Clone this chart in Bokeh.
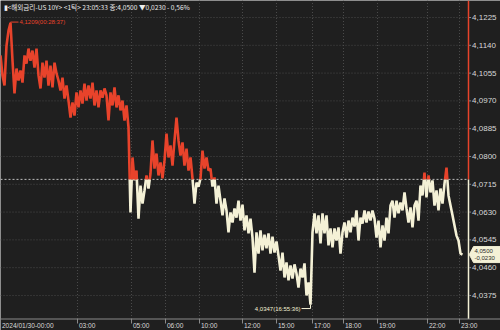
from bokeh.plotting import figure
from bokeh.models import Range1d
from bokeh.embed import file_html
from bokeh.resources import INLINE
from bokeh.core.properties import value

# ---------------- data ----------------
prices = [
    4.1109, 4.1048, 4.1017, 4.1139, 4.1185, 4.1209, 4.1093, 4.0993, 4.1069, 4.1032,
    4.1063, 4.1026, 4.1109, 4.1084, 4.1130, 4.1093, 4.1124, 4.1072, 4.1130, 4.1048,
    4.1008, 4.1087, 4.1041, 4.1093, 4.1017, 4.1078, 4.1011, 4.1087, 4.1054, 4.1032,
    4.1002, 4.1041, 4.0977, 4.1017, 4.0971, 4.0919, 4.0965, 4.0925, 4.0996, 4.0950,
    4.1002, 4.0962, 4.1023, 4.0971, 4.1017, 4.0977, 4.1026, 4.0956, 4.1002, 4.0950,
    4.1002, 4.0980, 4.1008, 4.0987, 4.0910, 4.0996, 4.0956, 4.1011, 4.0950, 4.0987,
    4.0941, 4.0971, 4.0910, 4.0956, 4.0889, 4.0629, 4.0797, 4.0727, 4.0757, 4.0610,
    4.0711, 4.0656, 4.0696, 4.0742, 4.0702, 4.0748, 4.0849, 4.0763, 4.0809, 4.0742,
    4.0782, 4.0733, 4.0788, 4.0870, 4.0797, 4.0834, 4.0772, 4.0849, 4.0919, 4.0849,
    4.0803, 4.0843, 4.0772, 4.0824, 4.0757, 4.0797, 4.0733, 4.0656, 4.0720, 4.0708,
    4.0733, 4.0818, 4.0763, 4.0797, 4.0757, 4.0763, 4.0708, 4.0736, 4.0656, 4.0711,
    4.0665, 4.0620, 4.0672, 4.0635, 4.0568, 4.0629, 4.0598, 4.0641, 4.0613, 4.0665,
    4.0604, 4.0653, 4.0574, 4.0620, 4.0565, 4.0610, 4.0552, 4.0445, 4.0568, 4.0503,
    4.0574, 4.0513, 4.0561, 4.0519, 4.0565, 4.0503, 4.0555, 4.0506, 4.0540, 4.0497,
    4.0451, 4.0506, 4.0430, 4.0476, 4.0421, 4.0467, 4.0427, 4.0470, 4.0442, 4.0399,
    4.0457, 4.0430, 4.0473, 4.0375, 4.0415, 4.0347, 4.0568, 4.0626, 4.0565, 4.0620,
    4.0534, 4.0626, 4.0565, 4.0620, 4.0528, 4.0580, 4.0522, 4.0580, 4.0543, 4.0583,
    4.0503, 4.0568, 4.0598, 4.0552, 4.0604, 4.0568, 4.0613, 4.0586, 4.0635, 4.0543,
    4.0613, 4.0595, 4.0635, 4.0598, 4.0632, 4.0604, 4.0635, 4.0610, 4.0552, 4.0604,
    4.0522, 4.0589, 4.0543, 4.0613, 4.0565, 4.0650, 4.0665, 4.0613, 4.0665, 4.0626,
    4.0659, 4.0635, 4.0690, 4.0641, 4.0598, 4.0644, 4.0583, 4.0650, 4.0665, 4.0604,
    4.0711, 4.0681, 4.0751, 4.0675, 4.0742, 4.0690, 4.0727, 4.0650, 4.0696, 4.0635,
    4.0702, 4.0656, 4.0717, 4.0766, 4.0681, 4.0650, 4.0620, 4.0589, 4.0558, 4.0543,
    4.0503, 4.0500,
]
prev_close = 4.0730
last_price = 4.0500
change = -0.0230
high_price = 4.1209
high_time = "00:28:37"
low_price = 4.0347
low_time = "16:55:36"

y_ticks = [4.1225, 4.1140, 4.1055, 4.0970, 4.0885, 4.0800, 4.0715, 4.0630, 4.0545, 4.0460, 4.0375]
time_pos = [0, 38.5, 65.5, 82.5, 99.5, 121, 138, 156, 171.5, 188.5, 213.5, 229.5]
time_labels = ["2024/01/30-00:00", "03:00", "05:00", "06:00", "10:00", "12:00",
               "15:00", "17:00", "18:00", "19:00", "22:00", "23:00"]
header = "<해외금리-US 10Y> <1틱> 23:05:33 종:4,0500 ▼0,0230 - 0,56%"

# ---------------- style / layout ----------------
BG = "#1f1f1f"
RED = "#e8432b"
CREAM = "#f4f1d6"
GRID = "#4a4a4a"
TXT = "#d8d8d8"
AX = "#8a8a8a"

W, H = 500, 330
X_END = 250            # index units across full canvas (2 px per tick-step)
X_PLOT = 234           # right edge of price area
Y_TOP = 4.1277
PX = 0.0003058         # price per pixel
Y_BOT = Y_TOP - H * PX

def py(pix):           # layout helper: vertical pixel -> price coordinate
    return Y_TOP - pix * PX

fmt = lambda v: f"{v:.4f}".replace(".", ",")

p = figure(width=W, height=H, output_backend="svg", toolbar_location=None,
           x_range=Range1d(0, X_END), y_range=Range1d(Y_BOT, Y_TOP),
           background_fill_color=BG, border_fill_color=BG,
           min_border=0, outline_line_color=None,
           x_axis_location=None, y_axis_location=None)
p.xgrid.visible = False
p.ygrid.visible = False

y_axis = py(318.5)

# grid lines
p.segment(x0=[0] * len(y_ticks), x1=[X_PLOT] * len(y_ticks), y0=y_ticks, y1=y_ticks,
          line_color=GRID, line_dash="1 2", line_width=1)
p.segment(x0=time_pos[1:], x1=time_pos[1:], y0=[y_axis] * (len(time_pos) - 1),
          y1=[Y_TOP] * (len(time_pos) - 1), line_color=GRID, line_dash="1 2", line_width=1)

# previous close reference line
p.segment(x0=[0], x1=[X_PLOT], y0=[prev_close], y1=[prev_close],
          line_color="#c0c0c0", line_dash="2 2", line_width=1)

# price line split red (above prev close) / cream (below)
n = len(prices)
red_x, red_y, cr_x, cr_y = [], [], [], []
cur_x, cur_y, cur_c = [0], [prices[0]], prices[0] >= prev_close
def flush(c, xs, ys):
    if len(xs) > 1:
        (red_x if c else cr_x).append(xs)
        (red_y if c else cr_y).append(ys)
for i in range(1, n):
    x0, y0, x1, y1 = i - 1, prices[i - 1], i, prices[i]
    c1 = y1 >= prev_close
    if c1 == cur_c:
        cur_x.append(x1); cur_y.append(y1)
    else:
        xc = x0 + (prev_close - y0) / (y1 - y0)
        cur_x.append(xc); cur_y.append(prev_close)
        flush(cur_c, cur_x, cur_y)
        cur_x, cur_y, cur_c = [xc, x1], [prev_close, y1], c1
flush(cur_c, cur_x, cur_y)
p.multi_line(cr_x, cr_y, line_color=CREAM, line_width=2.6)
p.multi_line(red_x, red_y, line_color=RED, line_width=2.6)

# right border of price area, split at prev close
p.segment(x0=[X_PLOT, X_PLOT], x1=[X_PLOT, X_PLOT], y0=[prev_close, y_axis], y1=[Y_TOP, prev_close],
          line_color=[RED, CREAM], line_width=1.5)

# bottom axis line, ticks and labels
p.segment(x0=[0], x1=[X_END], y0=[y_axis], y1=[y_axis], line_color=AX, line_width=1)
p.segment(x0=time_pos, x1=time_pos, y0=[y_axis] * len(time_pos), y1=[py(323)] * len(time_pos),
          line_color=AX, line_width=1)
p.text(x=[t + 0.7 for t in time_pos], y=[py(324.5)] * len(time_pos), text=time_labels,
       text_color=TXT, text_font=value("Liberation Sans"), text_font_size="6.6px",
       text_align="left", text_baseline="middle")

# right axis ticks and labels
p.segment(x0=[X_PLOT + 0.3] * len(y_ticks), x1=[X_PLOT + 1.3] * len(y_ticks), y0=y_ticks, y1=y_ticks,
          line_color=AX, line_width=1)
p.text(x=[X_PLOT + 1.8] * len(y_ticks), y=y_ticks, text=[fmt(t) for t in y_ticks],
       text_color=TXT, text_font=value("Liberation Sans"), text_font_size="8px",
       text_align="left", text_baseline="middle")

# header
p.text(x=[1.5], y=[py(6.5)], text=["▮" + header], text_color="#ececec",
       text_font=value("Noto Sans CJK KR"), text_font_size="6.6px", text_baseline="middle")

# high annotation
hy = high_price + 0.0002
p.segment(x0=[5, 5], y0=[high_price, hy], x1=[5, 9], y1=[hy, hy], line_color=RED, line_width=1)
p.text(x=[9.5], y=[hy], text=[fmt(high_price) + f"({high_time})"], text_color=RED,
       text_font=value("Liberation Sans"), text_font_size="6px", text_baseline="middle")

# low annotation
ly = low_price - 0.0012
p.segment(x0=[150.5, 155], y0=[ly, ly], x1=[155, 155], y1=[ly, low_price], line_color=CREAM, line_width=1)
p.text(x=[150], y=[ly], text=[fmt(low_price) + f"({low_time})"], text_color=CREAM,
       text_font=value("Liberation Sans"), text_font_size="6px", text_baseline="middle",
       text_align="right")

# last-price marker box on the axis
bh = 8 * PX
p.patch(x=[X_PLOT + 0.4, X_PLOT + 2.5, X_END, X_END, X_PLOT + 2.5],
        y=[last_price, last_price + bh, last_price + bh, last_price - bh, last_price - bh],
        fill_color=CREAM, line_color=CREAM)
p.text(x=[X_PLOT + 3.0, X_PLOT + 3.0], y=[last_price + 3.6 * PX, last_price - 3.8 * PX],
       text=[fmt(last_price), fmt(change)], text_color="#2a2a2a",
       text_font=value("Liberation Sans"), text_font_size="6px",
       text_align="left", text_baseline="middle")

open("out.html", "w").write(file_html(p, INLINE))
